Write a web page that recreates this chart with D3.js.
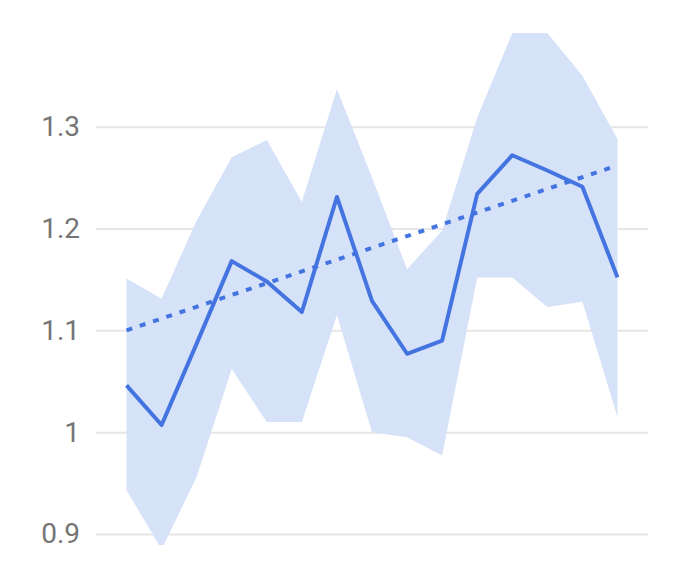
<!DOCTYPE html>
<html>
<head>
<meta charset="utf-8">
<script src="https://cdn.jsdelivr.net/npm/d3@7"></script>
<style>
  html, body { margin: 0; padding: 0; background: #fff; }
  #chart { width: 677px; height: 569px; }
  .y.axis text { font-family: Roboto, "Noto Sans", sans-serif; font-size: 28px; fill: #757575; }
</style>
</head>
<body>
<div id="chart"></div>
<script>
var points = d3.range(15);
var mainValues = [1.046, 1.007, 1.087, 1.168, 1.148, 1.118, 1.231, 1.129, 1.077, 1.090, 1.234, 1.272, 1.257, 1.241, 1.152];
var upperValues = [1.151, 1.131, 1.208, 1.270, 1.287, 1.226, 1.337, 1.250, 1.160, 1.198, 1.309, 1.392, 1.392, 1.350, 1.288];
var lowerValues = [0.943, 0.885, 0.956, 1.062, 1.010, 1.010, 1.115, 1.000, 0.995, 0.977, 1.152, 1.152, 1.123, 1.128, 1.015];
var trendValues = [1.100, 1.262];
var yTicks = [0.9, 1, 1.1, 1.2, 1.3];

var width = 677, height = 569;
var margin = {top: 33, right: 29, bottom: 24, left: 96};

var svg = d3.select("#chart").append("svg")
    .attr("width", width)
    .attr("height", height);

var x = d3.scalePoint()
    .domain(points)
    .range([margin.left, width - margin.right])
    .padding(0.87);

var y = d3.scaleLinear()
    .domain([0.9, 1.3])
    .range([534, 126.7]);

svg.append("defs").append("clipPath")
    .attr("id", "plot")
    .append("rect")
    .attr("x", margin.left)
    .attr("y", margin.top)
    .attr("width", width - margin.left - margin.right)
    .attr("height", height - margin.top - margin.bottom);

// gridlines + labels
var yAxis = d3.axisLeft(y)
    .tickValues(yTicks)
    .tickSize(-(width - margin.left - margin.right))
    .tickPadding(16)
    .tickFormat(function(d) { return d3.format("~g")(d); });

var gy = svg.append("g")
    .attr("class", "y axis")
    .attr("transform", "translate(" + margin.left + ",0)")
    .call(yAxis);
gy.select(".domain").remove();
gy.selectAll("line").attr("stroke", "#e6e6e6").attr("stroke-width", 2);

var data = points.map(function(i) {
  return {i: i, v: mainValues[i], hi: upperValues[i], lo: lowerValues[i]};
});

var plot = svg.append("g").attr("clip-path", "url(#plot)");

// interval band
plot.append("path")
    .datum(data)
    .attr("fill", "#d6e2f8")
    .attr("d", d3.area()
      .x(function(d) { return x(d.i); })
      .y0(function(d) { return y(d.lo); })
      .y1(function(d) { return y(d.hi); }));

// trendline
plot.append("line")
    .attr("x1", x(points[0]))
    .attr("x2", x(points[points.length - 1]))
    .attr("y1", y(trendValues[0]))
    .attr("y2", y(trendValues[1]))
    .attr("stroke", "#4374e0")
    .attr("stroke-width", 4)
    .attr("stroke-dasharray", "6,8");

// main series
plot.append("path")
    .datum(data)
    .attr("fill", "none")
    .attr("stroke", "#4374e0")
    .attr("stroke-width", 4)
    .attr("stroke-linejoin", "round")
    .attr("d", d3.line()
      .x(function(d) { return x(d.i); })
      .y(function(d) { return y(d.v); }));
</script>
</body>
</html>
